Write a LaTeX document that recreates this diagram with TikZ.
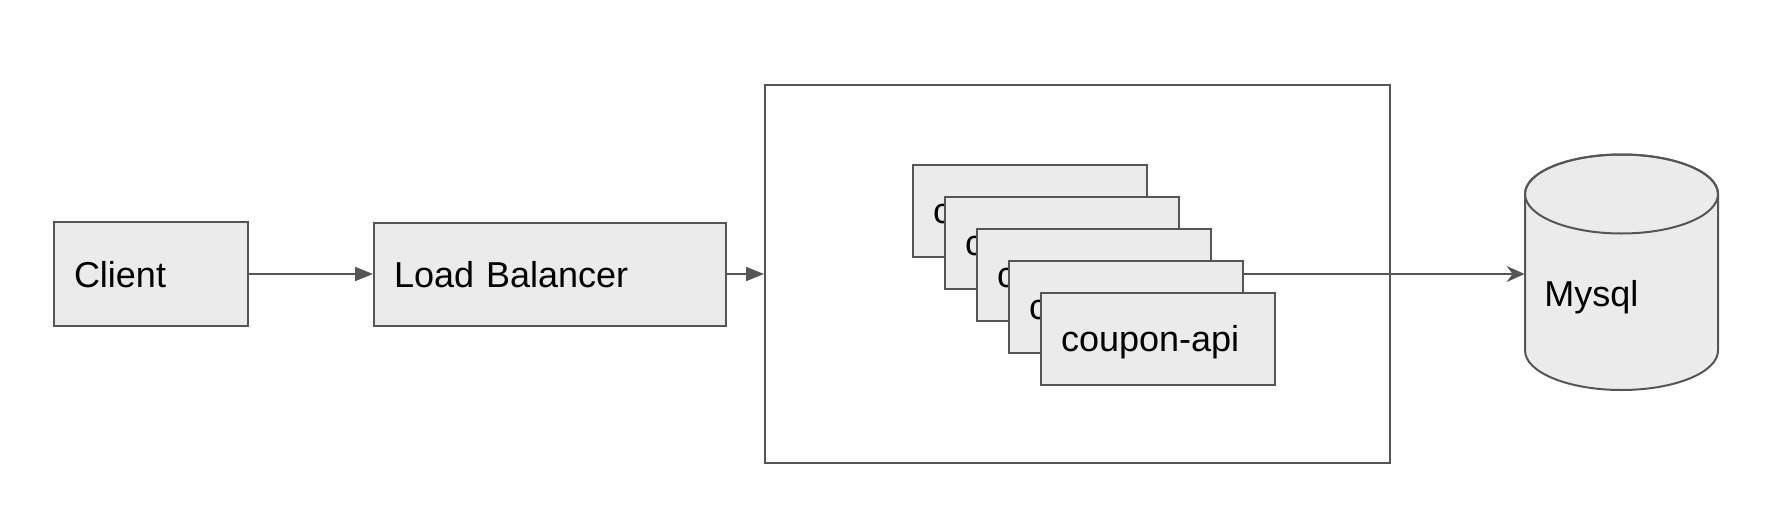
\documentclass[tikz,border=0pt]{standalone}
\usepackage{fontspec}
\setmainfont{Liberation Sans}
\usetikzlibrary{positioning}
\usetikzlibrary{arrows.meta}

\definecolor{boxgray}{RGB}{235,235,235}
\definecolor{linegray}{RGB}{85,85,85}

\tikzset{
  box/.style={rectangle,draw=linegray,fill=boxgray,line width=1pt,
    inner xsep=10pt,inner ysep=0pt,align=left,
    text height=13pt,text depth=0pt,font=\fontsize{18pt}{20pt}\selectfont},
  stackbox/.style={box,minimum height=46pt,text width=97pt},
  connect/.style={draw=linegray,line width=1pt,-{Triangle[length=9pt,width=7pt]}},
  dbconnect/.style={draw=linegray,line width=1pt,-{Stealth[length=9pt,width=8pt,inset=3pt]}}
}

\begin{document}
\begin{tikzpicture}[x=0.5pt,y=0.5pt]
  \useasboundingbox (0,0) rectangle (1770,521);

  \node (client) [box,minimum height=52pt,text width=77pt] at (151,247) {Client};
  \node (lb) [box,minimum height=51.5pt,text width=156pt,right=62pt of client] {Load Balancer};

  % container with the stacked instances
  \node (pod) [rectangle,draw=linegray,line width=0.8pt,minimum width=312.5pt,
    minimum height=189pt,right=18.5pt of lb] {};
  \foreach \i in {0,...,4}
    \node (s\i) [stackbox] at (1030+32*\i,310.5-32*\i) {coupon-api};

  % database
  \node (mysql) [minimum width=96.5pt,minimum height=117.75pt,inner sep=0pt] at (1621.5,248.75) {};
  \draw [draw=linegray,fill=boxgray,line width=1pt]
    (1525,327) -- (1525,170.5)
    arc [start angle=180,end angle=360,x radius=48.25pt,y radius=19.75pt]
    -- (1718,327)
    arc [start angle=0,end angle=180,x radius=48.25pt,y radius=19.75pt] -- cycle;
  \draw [draw=linegray,line width=1pt] (1621.5,327) ellipse [x radius=48.25pt,y radius=19.75pt];
  \node (mysqltxt) [anchor=west,inner sep=0pt,text height=13pt,text depth=0pt,
    font=\fontsize{18pt}{20pt}\selectfont] at (1544,228) {Mysql};

  \draw [connect] (client.east) -- (lb.west);
  \draw [connect] (lb.east) -- (pod.west |- lb.east);
  \draw [dbconnect] (s3.east |- lb.east) -- (mysql.west |- lb.east);
\end{tikzpicture}
\end{document}
